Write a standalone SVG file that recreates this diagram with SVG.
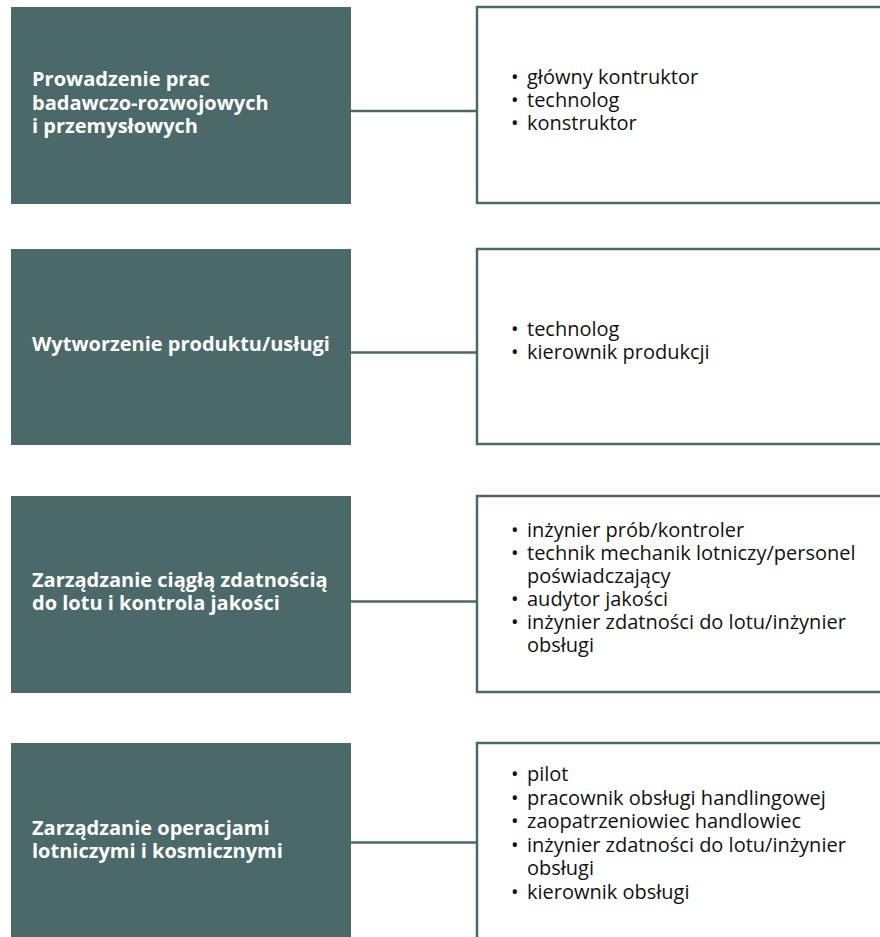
<svg xmlns="http://www.w3.org/2000/svg" width="880" height="937" viewBox="0 0 880 937">
<style>
.lbox{fill:#4a6968;stroke:none}
.rbox{fill:#ffffff;stroke:#4a6968;stroke-width:2.5}
.conn{stroke:#4a6968;stroke-width:2.5;fill:none}
.lt{font-family:"Open Sans","Liberation Sans",sans-serif;font-weight:bold;font-size:20px;fill:#ffffff}
.rt{font-family:"Open Sans","Liberation Sans",sans-serif;font-size:20px;fill:#111111}
</style>
<rect width="880" height="937" fill="#ffffff"/>
<g id="connectors">
<line class="conn" x1="351" y1="111" x2="477" y2="111"/>
<line class="conn" x1="351" y1="352.5" x2="477" y2="352.5"/>
<line class="conn" x1="351" y1="601.5" x2="477" y2="601.5"/>
<line class="conn" x1="351" y1="842.5" x2="477" y2="842.5"/>
</g>
<g id="node-l1">
<rect class="lbox" x="11" y="7" width="340" height="197"/>
<text class="lt"><tspan x="32" y="86">Prowadzenie prac</tspan><tspan x="32" y="109.5">badawczo-rozwojowych</tspan><tspan x="32" y="133">i przemysłowych</tspan></text>
</g>
<g id="node-r1">
<rect class="rbox" x="477" y="7" width="420" height="196"/>
<text class="rt"><tspan x="511" y="84">•</tspan><tspan x="527" y="84">główny kontruktor</tspan><tspan x="511" y="107">•</tspan><tspan x="527" y="107">technolog</tspan><tspan x="511" y="130">•</tspan><tspan x="527" y="130">konstruktor</tspan></text>
</g>
<g id="node-l2">
<rect class="lbox" x="11" y="249" width="340" height="196"/>
<text class="lt"><tspan x="32" y="351">Wytworzenie produktu/usługi</tspan></text>
</g>
<g id="node-r2">
<rect class="rbox" x="477" y="249" width="420" height="195"/>
<text class="rt"><tspan x="511" y="336">•</tspan><tspan x="527" y="336">technolog</tspan><tspan x="511" y="359">•</tspan><tspan x="527" y="359">kierownik produkcji</tspan></text>
</g>
<g id="node-l3">
<rect class="lbox" x="11" y="496" width="340" height="197"/>
<text class="lt"><tspan x="32" y="587">Zarządzanie ciągłą zdatnością</tspan><tspan x="32" y="610">do lotu i kontrola jakości</tspan></text>
</g>
<g id="node-r3">
<rect class="rbox" x="477" y="496" width="420" height="196"/>
<text class="rt"><tspan x="511" y="537">•</tspan><tspan x="527" y="537">inżynier prób/kontroler</tspan><tspan x="511" y="560">•</tspan><tspan x="527" y="560">technik mechanik lotniczy/personel</tspan><tspan x="527" y="583">poświadczający</tspan><tspan x="511" y="606">•</tspan><tspan x="527" y="606">audytor jakości</tspan><tspan x="511" y="629">•</tspan><tspan x="527" y="629">inżynier zdatności do lotu/inżynier</tspan><tspan x="527" y="652">obsługi</tspan></text>
</g>
<g id="node-l4">
<rect class="lbox" x="11" y="743" width="340" height="205"/>
<text class="lt"><tspan x="32" y="835">Zarządzanie operacjami</tspan><tspan x="32" y="858">lotniczymi i kosmicznymi</tspan></text>
</g>
<g id="node-r4">
<rect class="rbox" x="477" y="743" width="420" height="205"/>
<text class="rt"><tspan x="511" y="781">•</tspan><tspan x="527" y="781">pilot</tspan><tspan x="511" y="804.5">•</tspan><tspan x="527" y="804.5">pracownik obsługi handlingowej</tspan><tspan x="511" y="828">•</tspan><tspan x="527" y="828">zaopatrzeniowiec handlowiec</tspan><tspan x="511" y="851.5">•</tspan><tspan x="527" y="851.5">inżynier zdatności do lotu/inżynier</tspan><tspan x="527" y="875">obsługi</tspan><tspan x="511" y="898.5">•</tspan><tspan x="527" y="898.5">kierownik obsługi</tspan></text>
</g>
</svg>
